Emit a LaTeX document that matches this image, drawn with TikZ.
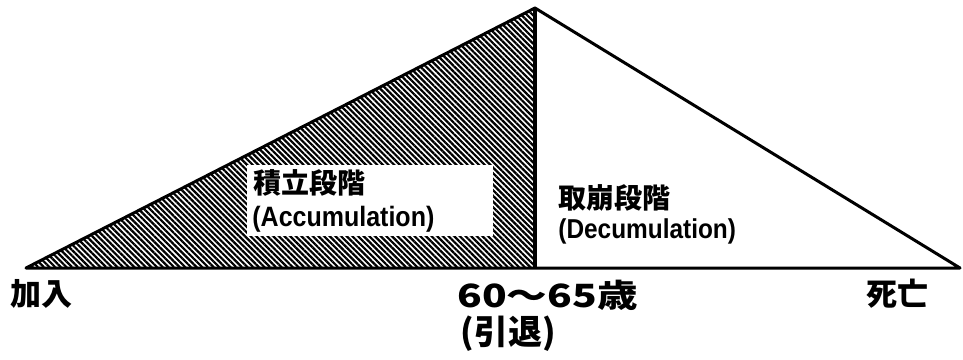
\documentclass[tikz,border=0pt]{standalone}
\usepackage{fontspec}
\newfontfamily\jp{Noto Sans CJK JP}
\newfontfamily\lat{Liberation Sans}
\usetikzlibrary{patterns.meta}
\begin{document}
\begin{tikzpicture}[x=0.5pt,y=-0.5pt,
  lbl/.style={inner sep=0pt, anchor=north west, align=left},
  cjk/.style={font=\jp\bfseries\fontsize{14}{17}\selectfont},
  latn/.style={font=\lat\bfseries\fontsize{12.5}{15}\selectfont},
  axis/.style={font=\jp\bfseries\fontsize{15.5}{18}\selectfont, inner sep=0pt, anchor=north west},
  edge/.style={line width=1.5pt, line join=round}]
\useasboundingbox (0,0) rectangle (963,359);
\coordinate (L) at (26,268);
\coordinate (T) at (535,8);
\coordinate (B) at (535,268);
\coordinate (R) at (960,268);
\fill[pattern={Lines[angle=-45,distance=2pt,line width=1.1pt]}] (L) -- (T) -- (B) -- cycle;
\draw[edge] (L) -- (T) -- (R) -- cycle;
\draw[line width=2pt] (T) -- (B);
\fill[white] (247,165) rectangle (493,236);
\node[lbl,cjk] (acc) at (253,169) {積立段階};
\node[lbl,latn] (acc2) at (252,206) {\scalebox{1}[1.12]{(Accumulation)}};
\node[lbl,cjk] (dec) at (558,184) {取崩段階};
\node[lbl,latn,font=\lat\bfseries\fontsize{12.2}{15}\selectfont] (dec2) at (558,218) {\scalebox{1}[1.12]{(Decumulation)}};
\node[axis] (join) at (10,279) {加入};
\node[axis, font=\jp\bfseries\fontsize{16}{18}\selectfont] (age) at (457,280) {\scalebox{1.27}[1]{60～65歳}};
\node[axis, font=\jp\bfseries\fontsize{17}{20}\selectfont] (ret) at (460,315) {(引退)};
\node[axis] (die) at (866,279) {死亡};
\end{tikzpicture}
\end{document}
